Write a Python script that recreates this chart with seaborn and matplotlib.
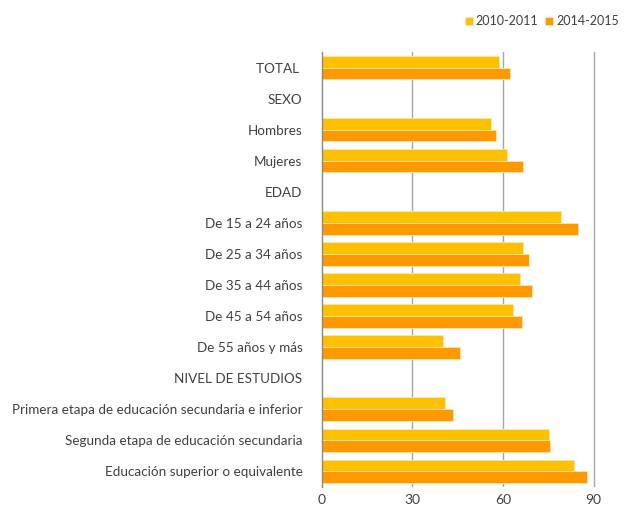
import numpy as np
import pandas as pd
import matplotlib
matplotlib.use("Agg")
import matplotlib.pyplot as plt
import seaborn as sns

categories = [
    "TOTAL ", "SEXO", "Hombres", "Mujeres", "EDAD",
    "De 15 a 24 años", "De 25 a 34 años", "De 35 a 44 años",
    "De 45 a 54 años", "De 55 años y más", "NIVEL DE ESTUDIOS",
    "Primera etapa de educación secundaria e inferior",
    "Segunda etapa de educación secundaria",
    "Educación superior o equivalente",
]
v2010 = [58.7, np.nan, 56.1, 61.2, np.nan, 79.1, 66.6, 65.6, 63.3, 40.1,
         np.nan, 40.7, 75.4, 83.6]
v2014 = [62.2, np.nan, 57.7, 66.5, np.nan, 84.9, 68.7, 69.5, 66.4, 45.9,
         np.nan, 43.5, 75.7, 88.0]
series = ["2010-2011", "2014-2015"]
ticks = [0, 30, 60, 90]
colors = ["#FFC000", "#FF9900"]

df = pd.DataFrame({
    "cat": categories * 2,
    "val": v2010 + v2014,
    "serie": [series[0]] * len(categories) + [series[1]] * len(categories),
})

sns.set_style("white")
plt.rcParams["font.family"] = ["Lato", "DejaVu Sans"]
text_color = "#404040"

fig = plt.figure(figsize=(6.3, 5.07), dpi=100)
ax = fig.add_axes([0.511, 0.040, 0.479, 0.857])

sns.barplot(data=df, y="cat", x="val", hue="serie", order=categories,
            hue_order=series, palette=colors, saturation=1, width=0.75,
            orient="h", edgecolor="#FFE6B0", linewidth=0.6, ax=ax,
            legend=True)

ax.set_xlim(0, 100)
ax.set_ylim(len(categories) - 0.5, -0.5)
ax.set_xticks(ticks)
ax.set_xticklabels([str(t) for t in ticks], fontsize=10, color=text_color)
ax.set_yticks(range(len(categories)))
ax.set_yticklabels(categories, fontsize=9.7, color=text_color)
ax.tick_params(axis="both", length=0)
ax.tick_params(axis="y", pad=14)
ax.tick_params(axis="x", pad=5)
ax.set_xlabel("")
ax.set_ylabel("")
for t in ticks[1:]:
    ax.axvline(t, color="#A6A6A6", linewidth=1.0, zorder=0)
for s in ["top", "right", "bottom"]:
    ax.spines[s].set_visible(False)
ax.spines["left"].set_color("#888888")
ax.spines["left"].set_linewidth(1.0)

handles, labels = ax.get_legend_handles_labels()
ax.legend(handles, labels, loc="center right", bbox_to_anchor=(1.0, 1.071),
          borderaxespad=0, ncol=2, frameon=False, fontsize=9,
          handlelength=0.65, handleheight=0.65, handletextpad=0.2,
          columnspacing=0.6, labelcolor=text_color)

fig.savefig("out.png", dpi=100)
